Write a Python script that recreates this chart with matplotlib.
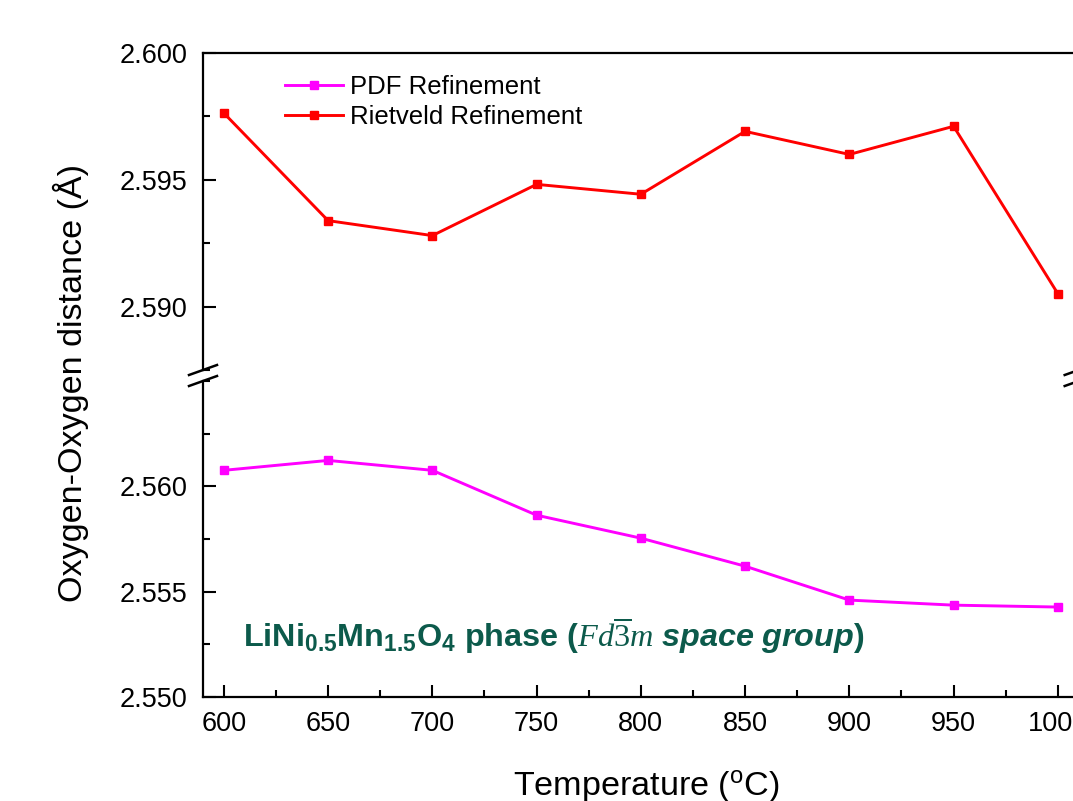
import matplotlib
matplotlib.use('Agg')
import matplotlib.pyplot as plt
from matplotlib.lines import Line2D
from matplotlib.ticker import MultipleLocator

plt.rcParams['font.family'] = ['Liberation Sans', 'DejaVu Sans']
plt.rcParams['mathtext.fontset'] = 'custom'
plt.rcParams['mathtext.rm'] = 'Liberation Serif'
plt.rcParams['mathtext.it'] = 'Liberation Serif:italic'
plt.rcParams['mathtext.sf'] = 'Liberation Sans:italic:bold'

# data
temperature = [600, 650, 700, 750, 800, 850, 900, 950, 1000]
pdf_refinement = [2.56076, 2.56123, 2.56076, 2.55863, 2.55754, 2.55621, 2.55460, 2.55436, 2.55427]
rietveld_refinement = [2.59763, 2.59339, 2.59280, 2.59482, 2.59443, 2.59691, 2.59600, 2.59711, 2.59051]

W, H = 1073, 801
fig = plt.figure(figsize=(W / 100, H / 100), dpi=100)

left, right = 203 / W, 1078.7 / W
ax_top = fig.add_axes([left, 1 - 370 / H, right - left, (370 - 53) / H])
ax_bot = fig.add_axes([left, 1 - 697 / H, right - left, (697 - 381) / H])

for ax in (ax_top, ax_bot):
    ax.plot(temperature, pdf_refinement, color='#ff00ff', lw=2.1, marker='s', ms=5.5,
            label='PDF Refinement')
    ax.plot(temperature, rietveld_refinement, color='#ff0000', lw=2.1, marker='s', ms=5.5,
            label='Rietveld Refinement')
    ax.set_xlim(590, 1010)
    ax.xaxis.set_major_locator(MultipleLocator(50))
    ax.xaxis.set_minor_locator(MultipleLocator(25))
    ax.yaxis.set_minor_locator(MultipleLocator(0.0025))
    ax.yaxis.set_major_formatter(plt.FormatStrFormatter('%.3f'))
    ax.tick_params(which='both', direction='in', width=1.5, labelsize=19.5)
    ax.tick_params(which='major', length=9)
    ax.tick_params(which='minor', length=5)
    ax.tick_params(axis='y', pad=11)
    ax.tick_params(axis='x', pad=10)
    for s in ax.spines.values():
        s.set_linewidth(1.6)

ax_top.set_ylim(2.5875, 2.600)
ax_bot.set_ylim(2.550, 2.565)
ax_top.set_yticks([2.590, 2.595, 2.600])
ax_bot.set_yticks([2.550, 2.555, 2.560])
ax_top.spines['bottom'].set_visible(False)
ax_bot.spines['top'].set_visible(False)
ax_top.tick_params(axis='x', which='both', bottom=False, top=False, labelbottom=False)
ax_bot.tick_params(axis='x', which='both', top=False)

# break marks on the y spines
for xp in (203, 1078.7):
    for yp in (370, 381):
        fig.add_artist(Line2D([(xp - 14) / W, (xp + 14) / W],
                              [1 - (yp + 5) / H, 1 - (yp - 5) / H],
                              color='black', lw=1.8, clip_on=False))

ax_top.legend(loc='upper left', bbox_to_anchor=(0.0936, 0.93), frameon=False,
              borderaxespad=0, borderpad=0, fontsize=18.5, handlelength=2.25,
              handletextpad=0.27, labelspacing=0.22)

ax_bot.text(0.0457, 0.193,
            r'LiNi$\mathregular{_{0.5}}$Mn$\mathregular{_{1.5}}$O$\mathregular{_4}$ phase ('
            r'$\mathit{Fd\overline{3}m}$ $\mathsf{space\ group}$)',
            transform=ax_bot.transAxes, fontsize=23.3, fontweight='bold', color='#0c5a4b',
            va='center', ha='left')

fig.text(71 / W, 1 - 383 / H, 'Oxygen-Oxygen distance (Å)', rotation=90,
         fontsize=24.6, ha='center', va='center')
fig.text(646 / W, 1 - 787 / H, r'Temperature ($\mathregular{^o}$C)',
         fontsize=24.6, ha='center', va='center')

fig.savefig('out.png', dpi=100)
